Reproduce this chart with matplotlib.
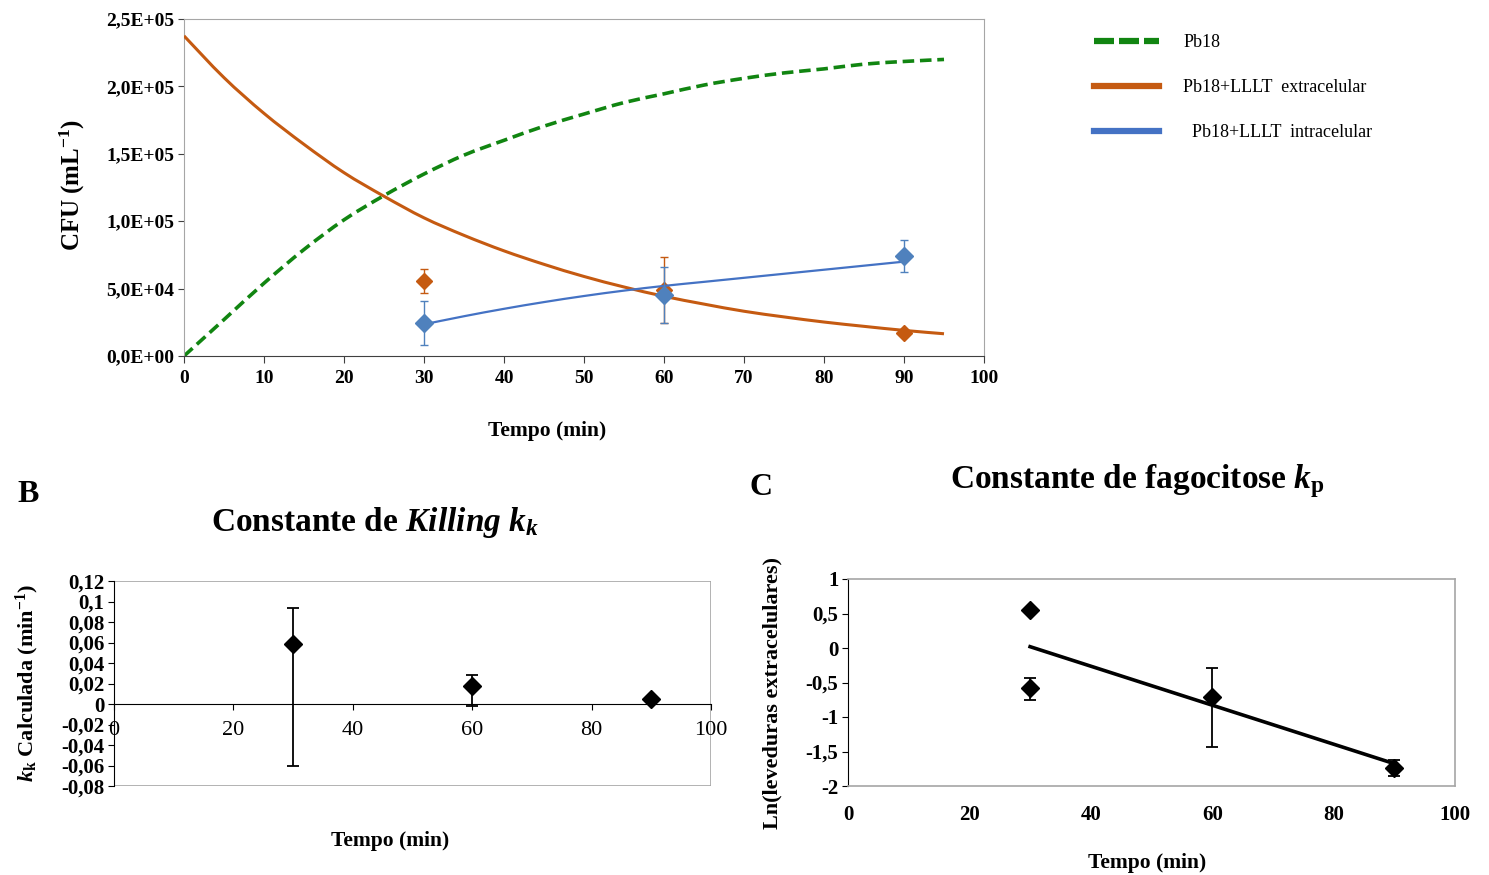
import numpy as np
import matplotlib
matplotlib.use('Agg')
import matplotlib.pyplot as plt
from matplotlib.lines import Line2D
from matplotlib.patches import Rectangle, PathPatch
from matplotlib.path import Path
from matplotlib.ticker import FuncFormatter, MultipleLocator

plt.rcParams['font.family'] = ['Liberation Serif', 'DejaVu Serif']
plt.rcParams['axes.unicode_minus'] = False
plt.rcParams['mathtext.fontset'] = 'custom'
plt.rcParams['mathtext.rm'] = 'Liberation Serif:bold'
plt.rcParams['mathtext.bf'] = 'Liberation Serif:bold'
plt.rcParams['mathtext.it'] = 'Liberation Serif:italic:bold'
plt.rcParams['mathtext.default'] = 'rm'

# ---------------- Panel A data ----------------
t_curve = [0, 5, 10, 15, 20, 25, 30, 35, 40, 45, 50, 55, 60, 65, 70, 75, 80, 85, 90, 95]
pb18_curve = [0, 27000, 54000, 79000, 101000, 119000, 135000, 149000, 160000, 170500,
              179500, 188000, 194500, 201000, 206000, 210000, 213000, 216500, 218500, 220000]
ext_curve = [237500, 206500, 180000, 157000, 136000, 118500, 102500, 89500, 78000, 68000,
             59000, 51200, 44300, 38500, 33200, 29000, 25200, 22000, 19000, 16500]
t_int_curve = [30, 35, 40, 45, 50, 55, 60, 65, 70, 75, 80, 85, 90]
int_curve = [23500, 29500, 35000, 40000, 44500, 48500, 52000, 55000, 58000, 61000, 64000, 67000, 70000]

t_obs = [30, 60, 90]
ext_obs = [55300, 48900, 17300]
ext_err = [8900, 24400, 800]
int_obs = [24200, 45000, 74000]
int_err = [16300, 20800, 12000]

legend_labels = ['Pb18', 'Pb18+LLLT  extracelular', '  Pb18+LLLT  intracelular']

# ---------------- Panel B data ----------------
t_kk = [30, 60, 90]
kk = [0.059, 0.0176, 0.0052]
kk_err_low = [0.119, 0.0196, 0.0]
kk_err_high = [0.035, 0.0104, 0.0]

# ---------------- Panel C data ----------------
t_ln = [30, 30, 60, 90]
ln_ext = [0.551, -0.575, -0.704, -1.739]
ln_err_low = [0.0, 0.177, 0.724, 0.12]
ln_err_high = [0.0, 0.135, 0.407, 0.12]

GREEN = '#118511'
ORANGE = '#C55A11'
BLUE_LINE = '#4472C4'
BLUE_MK = '#4F81BD'
GRAY = '#A6A6A6'

W, H = 1489, 875
fig = plt.figure(figsize=(W / 100, H / 100), dpi=100)


def fx(px):
    return px / W


def fy(py):
    return 1 - py / H


def comma_fmt(v, pos):
    s = ('%.2f' % v).rstrip('0').rstrip('.')
    if s in ('-0', ''):
        s = '0'
    return s.replace('.', ',')


def smooth_line(ax, x, y, **kw):
    """Draw a smoothed (Catmull-Rom / Bezier) line through the data points, like Excel's smoothed lines."""
    p = np.column_stack([np.asarray(x, float), np.asarray(y, float)])
    n = len(p)
    verts = [p[0]]
    codes = [Path.MOVETO]
    for i in range(n - 1):
        p0 = p[i - 1] if i > 0 else p[i]
        p3 = p[i + 2] if i + 2 < n else p[i + 1]
        c1 = p[i] + (p[i + 1] - p0) / 6.0
        c2 = p[i + 1] - (p3 - p[i]) / 6.0
        verts += [c1, c2, p[i + 1]]
        codes += [Path.CURVE4] * 3
    patch = PathPatch(Path(verts, codes), fill=False, transform=ax.transData, **kw)
    ax.add_patch(patch)
    return patch


# ================= Panel A =================
axA = fig.add_axes([fx(184), fy(356), fx(984) - fx(184), fy(19) - fy(356)])
smooth_line(axA, t_curve, pb18_curve, edgecolor=GREEN, lw=2.6, linestyle=(0, (3.2, 1.6)), zorder=2)
smooth_line(axA, t_curve, ext_curve, edgecolor=ORANGE, lw=2.2, zorder=3)
axA.errorbar(t_obs, ext_obs, yerr=ext_err, fmt='D', color=ORANGE, ms=8, ecolor=ORANGE,
             elinewidth=1, capsize=3, capthick=1, zorder=4)
smooth_line(axA, t_int_curve, int_curve, edgecolor=BLUE_LINE, lw=1.6, zorder=5)
axA.errorbar(t_obs, int_obs, yerr=int_err, fmt='D', color=BLUE_MK, ms=9, ecolor=BLUE_MK,
             elinewidth=1, capsize=3, capthick=1, zorder=6)
axA.set_xlim(0, 100)
axA.set_ylim(0, 250000)
axA.xaxis.set_major_locator(MultipleLocator(10))
axA.yaxis.set_major_locator(MultipleLocator(50000))
axA.yaxis.set_major_formatter(FuncFormatter(lambda v, p: ('%.1E' % v).replace('.', ',')))
for s in ['top', 'right', 'left']:
    axA.spines[s].set_color(GRAY)
axA.spines['bottom'].set_color('#404040')
axA.tick_params(axis='y', colors='#404040', length=4, width=0.8, labelcolor='black', pad=3)
axA.tick_params(axis='x', colors='#404040', length=5, width=0.8, labelcolor='black', pad=5)
for lab in axA.get_xticklabels() + axA.get_yticklabels():
    lab.set_fontweight('bold')
    lab.set_fontsize(14)
fig.text(fx(547), fy(431), 'Tempo (min)', ha='center', va='center', fontsize=15.5, fontweight='bold')
fig.text(fx(72), fy(185), r'CFU (mL$^{-1}$)', ha='center', va='center', rotation=90,
         fontsize=18, fontweight='bold')

handles = [Line2D([], [], color=GREEN, lw=4.5, linestyle=(0, (3.2, 0.8))),
           Line2D([], [], color=ORANGE, lw=4.5),
           Line2D([], [], color=BLUE_LINE, lw=4.5)]
fig.legend(handles, legend_labels, loc='upper left', bbox_to_anchor=(fx(1094), fy(34)),
           frameon=False, fontsize=13, handlelength=3.6, handletextpad=1.35, labelspacing=1.55,
           borderaxespad=0, borderpad=0)

# ================= Panel B =================
axB = fig.add_axes([fx(114), fy(786), fx(711) - fx(114), fy(581) - fy(786)])
axB.errorbar(t_kk, kk, yerr=[kk_err_low, kk_err_high], fmt='D', color='black', ms=9,
             ecolor='black', elinewidth=1.3, capsize=4, capthick=1.3, zorder=4)
axB.set_xlim(0, 100)
axB.set_ylim(-0.08, 0.12)
axB.xaxis.set_major_locator(MultipleLocator(20))
axB.yaxis.set_major_locator(MultipleLocator(0.02))
axB.yaxis.set_major_formatter(FuncFormatter(comma_fmt))
axB.spines['bottom'].set_position(('data', 0))
axB.spines['bottom'].set_color('black')
axB.spines['left'].set_color('black')
axB.spines['top'].set_visible(False)
axB.spines['right'].set_visible(False)
axB.add_patch(Rectangle((0, 0), 1, 1, transform=axB.transAxes, fill=False,
                        edgecolor=GRAY, lw=1.2, zorder=0))
axB.tick_params(axis='y', length=4, width=0.8, pad=3)
axB.tick_params(axis='x', length=4, width=0.8, pad=8)
for lab in axB.get_yticklabels():
    lab.set_fontweight('bold')
    lab.set_fontsize(15)
for lab in axB.get_xticklabels():
    lab.set_fontsize(16)
fig.text(fx(390), fy(841), 'Tempo (min)', ha='center', va='center', fontsize=15.5, fontweight='bold')
fig.text(fx(27), fy(683), r'$\mathit{k}_\mathrm{k}$ Calculada (min$^{-1}$)', ha='center',
         va='center', rotation=90, fontsize=16, fontweight='bold')
fig.text(fx(28), fy(494), 'B', ha='center', va='center', fontsize=23, fontweight='bold')
fig.text(fx(375), fy(523), r'Constante de $\mathit{Killing}$ $\mathit{k}_{\mathit{k}}$',
         ha='center', va='center', fontsize=24, fontweight='bold')

# ================= Panel C =================
axC = fig.add_axes([fx(848), fy(786), fx(1455) - fx(848), fy(579) - fy(786)])
axC.errorbar(t_ln, ln_ext, yerr=[ln_err_low, ln_err_high], fmt='D', color='black', ms=9,
             ecolor='black', elinewidth=1.3, capsize=4, capthick=1.3, zorder=4)
coef = np.polyfit(t_ln, ln_ext, 1)
t_fit = np.array([min(t_ln), max(t_ln)])
axC.plot(t_fit, np.polyval(coef, t_fit), color='black', lw=2.6, zorder=3)
axC.set_xlim(0, 100)
axC.set_ylim(-2, 1)
axC.xaxis.set_major_locator(MultipleLocator(20))
axC.yaxis.set_major_locator(MultipleLocator(0.5))
axC.yaxis.set_major_formatter(FuncFormatter(comma_fmt))
for s in ['top', 'right', 'bottom']:
    axC.spines[s].set_color(GRAY)
    axC.spines[s].set_linewidth(1.2)
axC.spines['left'].set_color('black')
axC.tick_params(axis='y', length=4, width=0.8, pad=3)
axC.tick_params(axis='x', length=0, pad=14)
for lab in axC.get_yticklabels() + axC.get_xticklabels():
    lab.set_fontweight('bold')
    lab.set_fontsize(15)
fig.text(fx(1147), fy(863), 'Tempo (min)', ha='center', va='center', fontsize=15.5, fontweight='bold')
fig.text(fx(772), fy(693), 'Ln(leveduras extracelulares)', ha='center', va='center',
         rotation=90, fontsize=16, fontweight='bold')
fig.text(fx(761), fy(487), 'C', ha='center', va='center', fontsize=23, fontweight='bold')
fig.text(fx(1137), fy(481), r'Constante de fagocitose $\mathit{k}_\mathrm{p}$',
         ha='center', va='center', fontsize=24, fontweight='bold')

fig.savefig('out.png', dpi=100)
